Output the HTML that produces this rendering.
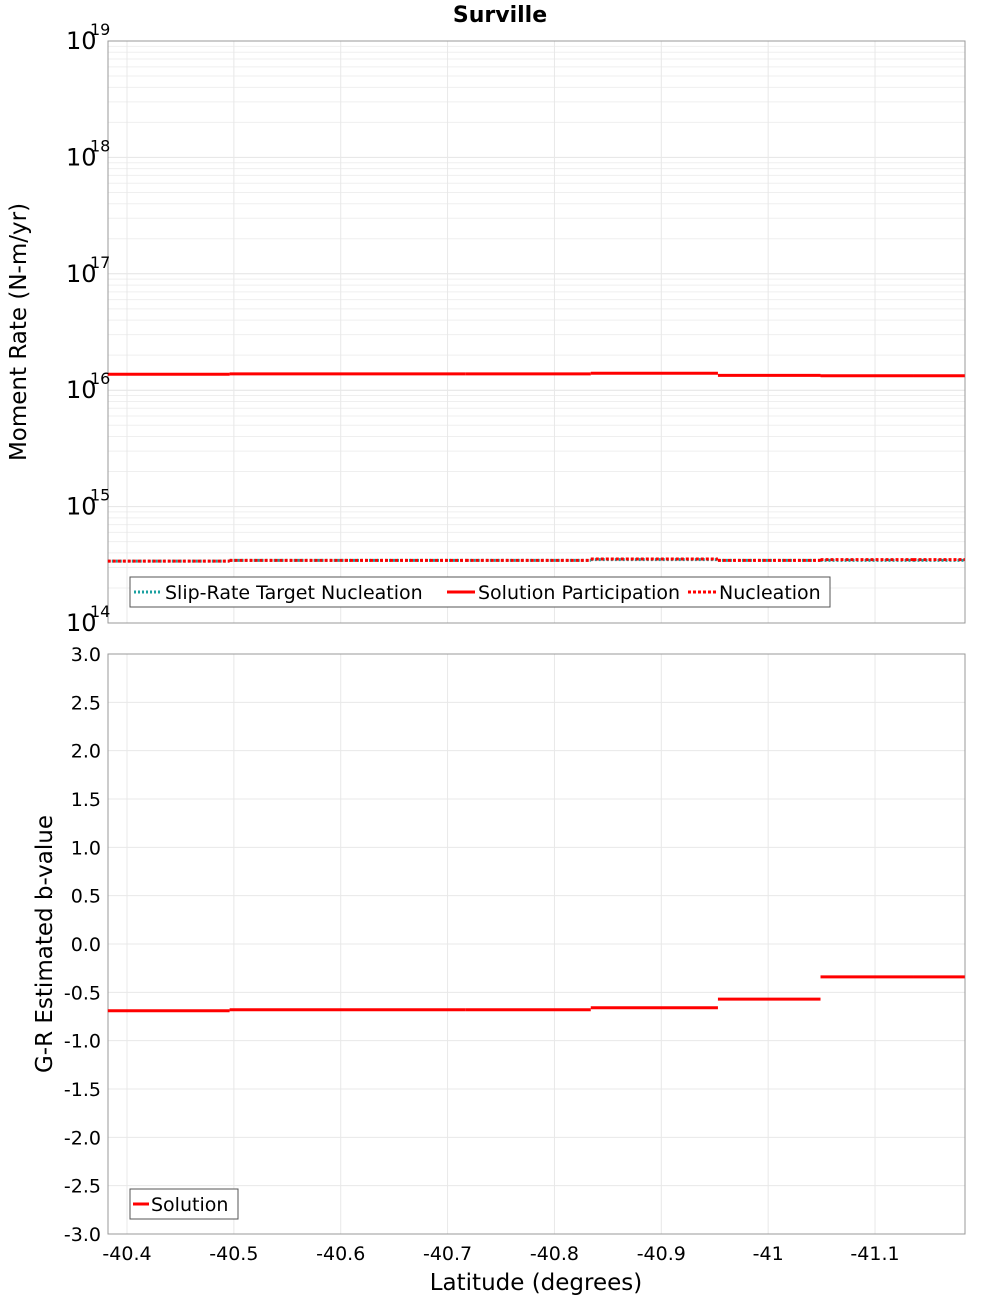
<!DOCTYPE html>
<html><head><meta charset="utf-8"><style>
body{margin:0;background:#fff;font-family:"Liberation Sans","DejaVu Sans",sans-serif}
svg text{font-family:"DejaVu Sans","Liberation Sans",sans-serif}
</style></head><body>
<svg id="c" width="1000" height="1300" xmlns="http://www.w3.org/2000/svg"></svg>
<script>
const segBreaks=[-40.382,-40.496,-40.604,-40.717,-40.834,-40.953,-41.049,-41.136,-41.184];
const solPart=[1.37e16,1.38e16,1.38e16,1.38e16,1.40e16,1.34e16,1.33e16,1.33e16];
const nucl=[3.4e14,3.45e14,3.45e14,3.45e14,3.55e14,3.45e14,3.5e14,3.5e14];
const target=[3.4e14,3.45e14,3.45e14,3.45e14,3.5e14,3.45e14,3.45e14,3.45e14];
const bvals=[-0.69,-0.68,-0.68,-0.68,-0.66,-0.57,-0.34,-0.34];
const xTicks=[-40.4,-40.5,-40.6,-40.7,-40.8,-40.9,-41,-41.1];
const xTickLabels=["-40.4","-40.5","-40.6","-40.7","-40.8","-40.9","-41","-41.1"];
const bTicks=[3,2.5,2,1.5,1,0.5,0,-0.5,-1,-1.5,-2,-2.5,-3];
const logExps=[14,15,16,17,18,19];

const S=document.getElementById('c'),NS='http://www.w3.org/2000/svg';
function el(t,a,p){const e=document.createElementNS(NS,t);for(const k in a)e.setAttribute(k,a[k]);(p||S).appendChild(e);return e;}
const L=108,R=965,T1=41,B1=623,T2=654,B2=1234;
const x=v=>127+(-40.4-v)*1068.6;
const y1=v=>B1-(Math.log10(v)-14)*(B1-T1)/5;
const y2=v=>T2+(3-v)*(B2-T2)/6;

// top grid
let g=el('g',{});
for(let e=14;e<19;e++)for(let m=1;m<10;m++){const yy=y1(m*Math.pow(10,e));el('line',{x1:L,x2:R,y1:yy,y2:yy,stroke:m==1?'#e4e4e4':'#efefef','stroke-width':1},g);}
xTicks.forEach(t=>{el('line',{x1:x(t),x2:x(t),y1:T1,y2:B1,stroke:'#e8e8e8'},g);el('line',{x1:x(t),x2:x(t),y1:T2,y2:B2,stroke:'#e8e8e8'},g);});
bTicks.forEach(t=>el('line',{x1:L,x2:R,y1:y2(t),y2:y2(t),stroke:'#e8e8e8'},g));
let f=el('rect',{x:L,y:T1,width:R-L,height:B1-T1,fill:'none',stroke:'#999'});
f=el('rect',{x:L,y:T2,width:R-L,height:B2-T2,fill:'none',stroke:'#999'});

function steps(vals,yf,attrs,name){for(let i=0;i<vals.length;i++){const l=el('line',Object.assign({x1:x(segBreaks[i]),x2:x(segBreaks[i+1]),y1:yf(vals[i]),y2:yf(vals[i])},attrs));}}
steps(target,y1,{stroke:'#1aa0a0','stroke-width':3,'stroke-dasharray':'2,2'},'target-nucleation');
steps(nucl,y1,{stroke:'#f00','stroke-width':3,'stroke-dasharray':'3,2'},'nucleation');
steps(solPart,y1,{stroke:'#f00','stroke-width':3},'solution-participation');
steps(bvals,y2,{stroke:'#f00','stroke-width':3},'b-value');

// labels
let t=el('text',{x:500,y:22,'text-anchor':'middle','font-size':22,'font-weight':'bold'});t.textContent='Surville';
logExps.forEach(e=>{const yy=y1(Math.pow(10,e));let a=el('text',{x:66,y:yy+8,'font-size':24});a.textContent='10';let b=el('text',{x:90,y:yy-6,'font-size':16});b.textContent=e;});
bTicks.forEach(v=>{let a=el('text',{x:101,y:y2(v)+7,'text-anchor':'end','font-size':19});a.textContent=v.toFixed(1);});
xTicks.forEach((v,i)=>{let a=el('text',{x:x(v),y:1260,'text-anchor':'middle','font-size':19});a.textContent=xTickLabels[i];});
t=el('text',{x:536,y:1290,'text-anchor':'middle','font-size':23});t.textContent='Latitude (degrees)';
t=el('text',{transform:'translate(26,332) rotate(-90)','text-anchor':'middle','font-size':23});t.textContent='Moment Rate (N-m/yr)';
t=el('text',{transform:'translate(52,944) rotate(-90)','text-anchor':'middle','font-size':23});t.textContent='G-R Estimated b-value';

// legends
let lg=el('g',{});
el('rect',{x:130,y:577,width:700,height:30,fill:'#fff',stroke:'#555'},lg);
[[134,'Slip-Rate Target Nucleation','#1aa0a0','2,2'],[447,'Solution Participation','#f00',''],[688,'Nucleation','#f00','3,2']].forEach(([lx,txt,c,d])=>{
 el('line',{x1:lx,x2:lx+28,y1:592,y2:592,stroke:c,'stroke-width':3,'stroke-dasharray':d||'none'},lg);
 let a=el('text',{x:lx+31,y:599,'font-size':19},lg);a.textContent=txt;});
lg=el('g',{});
el('rect',{x:130,y:1189,width:108,height:30,fill:'#fff',stroke:'#555'},lg);
el('line',{x1:133,x2:149,y1:1204,y2:1204,stroke:'#f00','stroke-width':3},lg);
t=el('text',{x:151,y:1211,'font-size':19},lg);t.textContent='Solution';
</script>
</body></html>
